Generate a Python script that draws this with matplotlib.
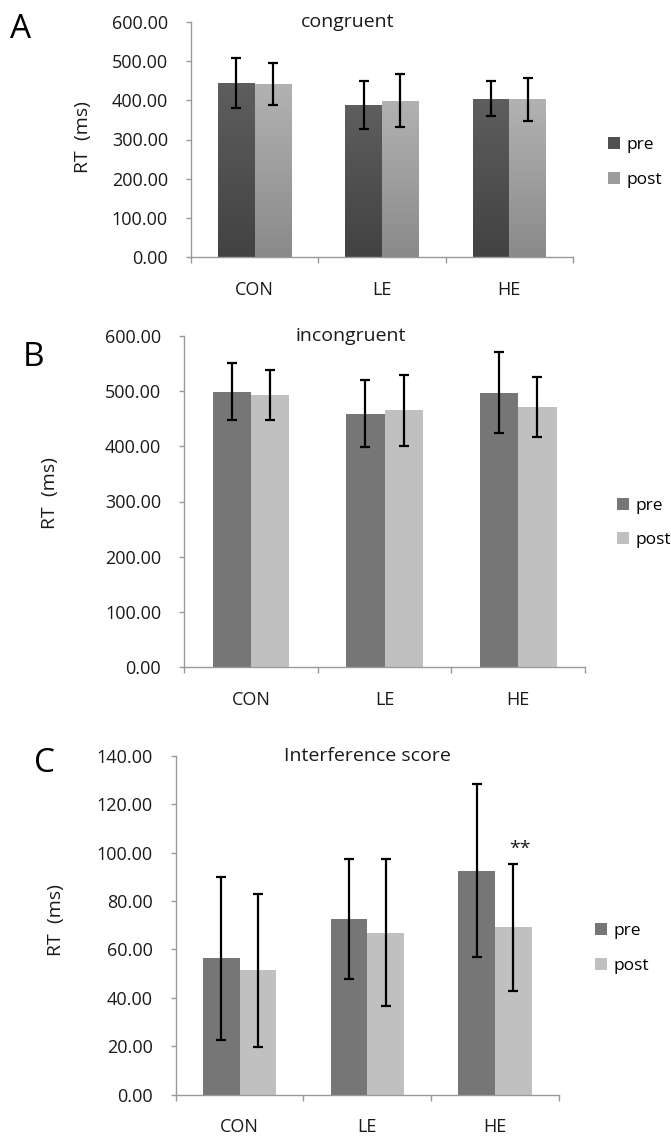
import numpy as np
import matplotlib
matplotlib.use('Agg')
import matplotlib.pyplot as plt
from matplotlib.colors import LinearSegmentedColormap
from matplotlib.patches import Patch

plt.rcParams['font.family'] = ['Open Sans', 'DejaVu Sans']

groups = ['CON', 'LE', 'HE']
series = ['pre', 'post']

# congruent RT (ms)
cong_pre = [443, 387, 404]
cong_post = [442, 399, 402]
cong_pre_err = [64, 61, 44.5]
cong_post_err = [53, 67, 54]

# incongruent RT (ms)
incong_pre = [499, 459, 497]
incong_post = [493, 465, 471]
incong_pre_err = [51.5, 60.5, 73.5]
incong_post_err = [46, 64.5, 54]

# interference score (ms)
interf_pre = [56.3, 72.7, 92.6]
interf_post = [51.3, 66.9, 69.2]
interf_pre_err = [33.8, 24.9, 35.8]
interf_post_err = [31.8, 30.3, 26.3]

W, H = 671, 1137
fig = plt.figure(figsize=(W / 100, H / 100), dpi=100)


def px_axes(left, right, top, bottom):
    return fig.add_axes([left / W, 1 - bottom / H, (right - left) / W, (bottom - top) / H])


def panel(ax, pre, post, pre_err, post_err, ymax, ystep, title, title_x,
          colors, ylab_pos, leg_pos, gradient=None):
    x = np.arange(len(groups))
    bw = 0.287
    b1 = ax.bar(x - bw / 2, pre, bw, color=colors[0], zorder=2)
    b2 = ax.bar(x + bw / 2, post, bw, color=colors[1], zorder=2)
    if gradient is not None:
        for bars, (c_top, c_bot) in zip([b1, b2], gradient):
            cmap = LinearSegmentedColormap.from_list('g', [c_bot, c_top])
            for p in bars:
                im = ax.imshow(np.linspace(0, 1, 100).reshape(-1, 1), cmap=cmap,
                               extent=[p.get_x(), p.get_x() + p.get_width(), 0, p.get_height()],
                               origin='lower', aspect='auto', zorder=2.5)
                im.set_clip_path(p)
    ax.errorbar(x - bw / 2, pre, yerr=pre_err, fmt='none', ecolor='black',
                elinewidth=1.6, capsize=3.3, capthick=1.6, zorder=4)
    ax.errorbar(x + bw / 2, post, yerr=post_err, fmt='none', ecolor='black',
                elinewidth=1.6, capsize=3.3, capthick=1.6, zorder=4)

    ax.set_xlim(-0.5, len(groups) - 0.5)
    ax.set_ylim(0, ymax)
    ax.set_yticks(np.arange(0, ymax + 0.1, ystep))
    ax.set_yticklabels(['%.2f' % v for v in np.arange(0, ymax + 0.1, ystep)])
    ax.set_xticks(x)
    ax.set_xticklabels(groups)
    ax.set_xticks(np.arange(-0.5, len(groups)), minor=True)
    for s in ['top', 'right']:
        ax.spines[s].set_visible(False)
    for s in ['left', 'bottom']:
        ax.spines[s].set_color('#999999')
        ax.spines[s].set_linewidth(1.0)
    ax.tick_params(axis='y', length=3.6, width=1, color='#999999', pad=13,
                   labelsize=13, labelcolor='#1a1a1a')
    ax.tick_params(axis='x', which='major', length=0, pad=17, labelsize=13,
                   labelcolor='#1a1a1a')
    ax.tick_params(axis='x', which='minor', length=4.5, width=1, color='#999999')
    ax.text(title_x, 1.0, title, transform=ax.transAxes, ha='center', va='center',
            fontsize=14, color='#1a1a1a')
    ax.text(ylab_pos[0], ylab_pos[1], 'RT  (ms)', transform=ax.transAxes, rotation=90,
            ha='center', va='center', fontsize=14, color='#1a1a1a')
    handles = [Patch(facecolor=colors[0]), Patch(facecolor=colors[1])]
    fig.legend(handles, series, loc='center left', bbox_to_anchor=leg_pos,
               bbox_transform=fig.transFigure, frameon=False, fontsize=12.5,
               handlelength=0.7, handleheight=0.7, handletextpad=0.35,
               labelspacing=1.05, borderpad=0, borderaxespad=0)
    return ax


axA = px_axes(191, 573, 21.7, 257.3)
panel(axA, cong_pre, cong_post, cong_pre_err, cong_post_err, 600, 100,
      'congruent', 0.411, ['#505050', '#9c9c9c'], (-0.283, 0.511),
      (608 / W, 1 - 162.5 / H),
      gradient=[('#5e5e5e', '#424242'), ('#b2b2b2', '#8a8a8a')])

axB = px_axes(184.3, 585, 336, 667)
panel(axB, incong_pre, incong_post, incong_pre_err, incong_post_err, 600, 100,
      'incongruent', 0.414, ['#767676', '#c0c0c0'], (-0.336, 0.526),
      (617 / W, 1 - 523 / H))

axC = px_axes(175.7, 559, 756, 1094.5)
panel(axC, interf_pre, interf_post, interf_pre_err, interf_post_err, 140, 20,
      'Interference score', 0.499, ['#767676', '#c0c0c0'], (-0.313, 0.515),
      (595 / W, 1 - 948.5 / H))
axC.text(2 + 0.287 / 2 + 0.05, 101.5, '**', ha='center', va='center', fontsize=14,
         color='#1a1a1a')

fig.text(21 / W, 1 - 30 / H, 'A', fontsize=24, ha='center', va='center')
fig.text(33 / W, 1 - 357 / H, 'B', fontsize=24, ha='center', va='center')
fig.text(44 / W, 1 - 764 / H, 'C', fontsize=24, ha='center', va='center')

fig.savefig('out.png', dpi=100)
